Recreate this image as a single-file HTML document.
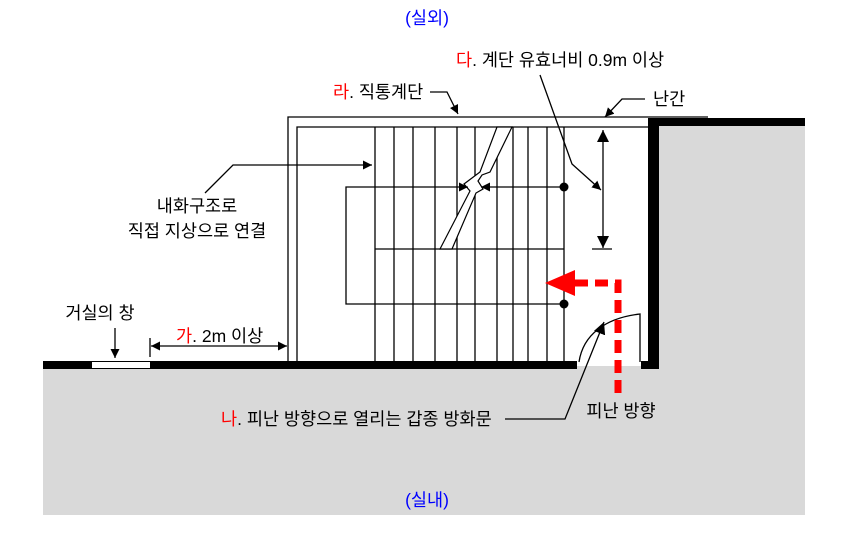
<!DOCTYPE html>
<html><head><meta charset="utf-8"><style>
html,body{margin:0;padding:0;background:#fff;}
svg{display:block}
text{font-family:"Liberation Sans","Noto Sans CJK KR",sans-serif;font-size:17.5px;fill:#000}
</style></head><body>
<svg width="855" height="534" viewBox="0 0 855 534" xmlns="http://www.w3.org/2000/svg">
<defs>
<marker id="a" viewBox="0 0 10 10" refX="10" refY="5" markerWidth="9" markerHeight="9" orient="auto-start-reverse" markerUnits="userSpaceOnUse"><path d="M0,0 L10,5 L0,10 z" fill="#000"/></marker>
<marker id="b" viewBox="0 0 10 10" refX="10" refY="5" markerWidth="12" markerHeight="12" orient="auto-start-reverse" markerUnits="userSpaceOnUse"><path d="M0,0 L10,5 L0,10 z" fill="#000"/></marker>
</defs>
<rect x="43" y="366" width="762" height="149" fill="#d9d9d9"/>
<rect x="656" y="122" width="149" height="250" fill="#d9d9d9"/>
<rect x="43" y="361" width="534" height="8" fill="#000"/>
<rect x="92" y="362" width="58" height="6" fill="#fff"/>
<rect x="641" y="361" width="18" height="8" fill="#000"/>
<rect x="648" y="118" width="11" height="251" fill="#000"/>
<rect x="648" y="118" width="157" height="8" fill="#000"/>
<g stroke="#000" stroke-width="1.3" fill="none">
<polyline points="288,361 288,117 708,117"/>
<polyline points="297,361 297,127 648,127"/>
<line x1="375" y1="127" x2="375" y2="361"/><line x1="394" y1="127" x2="394" y2="361"/>
<line x1="413" y1="127" x2="413" y2="361"/><line x1="435" y1="127" x2="435" y2="361"/>
<line x1="457" y1="127" x2="457" y2="361"/><line x1="475" y1="127" x2="475" y2="361"/>
<line x1="497" y1="127" x2="497" y2="361"/><line x1="513" y1="127" x2="513" y2="361"/>
<line x1="528" y1="127" x2="528" y2="361"/><line x1="547" y1="127" x2="547" y2="361"/>
<line x1="564" y1="127" x2="564" y2="361"/>
<polyline points="564,187 346,187 346,304 564,304"/>
<line x1="375" y1="249" x2="564" y2="249"/>
</g>
<polygon points="497,127 512,127 490,172 482,175 478,181 483,189 476,193 452,249 440,249 470,191 464,184 480,172" fill="#fff" stroke="#000" stroke-width="1.2"/>
<line x1="458" y1="187" x2="468" y2="187" stroke="#000" marker-end="url(#a)"/>
<line x1="492" y1="187" x2="481" y2="187" stroke="#000" marker-end="url(#a)"/>
<circle cx="564" cy="187" r="4.5"/><circle cx="564" cy="304" r="4.5"/>
<line x1="603" y1="130" x2="603" y2="248" stroke="#000" stroke-width="1.3" marker-start="url(#b)" marker-end="url(#b)"/>
<line x1="592" y1="249" x2="612" y2="249" stroke="#000" stroke-width="1.3"/>
<path d="M579,362 C583,335 605,318 640,314 L640,362" fill="none" stroke="#000" stroke-width="1.3"/>
<path d="M618,393 L618,283 L575,283" fill="none" stroke="#f00" stroke-width="7" stroke-dasharray="13,7"/>
<polygon points="545,283 575,270 575,296" fill="#f00"/>
<g stroke="#000" stroke-width="1.3" fill="none">
<polyline points="430,92 447,92 458,114" marker-end="url(#a)"/>
<polyline points="645,99 622,99 605,117" marker-end="url(#a)"/>
<polyline points="540,75 572,164 601,190" marker-end="url(#a)"/>
<polyline points="205,193 233,165 372,165" marker-end="url(#a)"/>
<line x1="115" y1="328" x2="115" y2="358" marker-end="url(#a)"/>
<line x1="151" y1="346" x2="287" y2="346" marker-start="url(#a)" marker-end="url(#a)"/>
<line x1="150" y1="338" x2="150" y2="357"/>
<polyline points="505,419 565,419 604,322" marker-end="url(#b)"/>
</g>
<text x="427" y="24" text-anchor="middle" style="fill:#00f">(실외)</text>
<text x="427" y="506" text-anchor="middle" style="fill:#00f">(실내)</text>
<text x="456" y="66"><tspan style="fill:#f00">다</tspan>. 계단 유효너비 0.9m 이상</text>
<text x="333" y="98"><tspan style="fill:#f00">라</tspan>. 직통계단</text>
<text x="653" y="105">난간</text>
<text x="197" y="212" text-anchor="middle">내화구조로</text>
<text x="197" y="237" text-anchor="middle">직접 지상으로 연결</text>
<text x="100" y="319" text-anchor="middle">거실의 창</text>
<text x="176" y="342"><tspan style="fill:#f00">가</tspan>. 2m 이상</text>
<text x="221" y="425"><tspan style="fill:#f00">나</tspan>. 피난 방향으로 열리는 갑종 방화문</text>
<text x="621" y="417" text-anchor="middle">피난 방향</text>
</svg>
</body></html>
